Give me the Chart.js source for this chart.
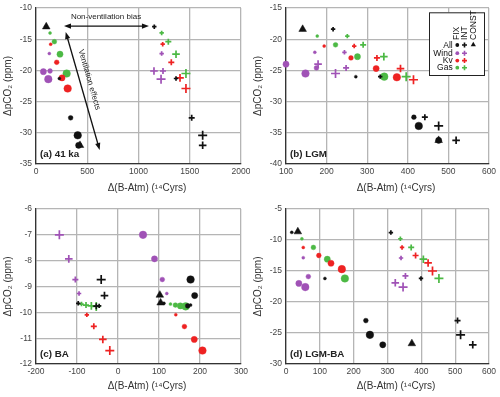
<!DOCTYPE html>
<html><head><meta charset="utf-8">
<script src="https://cdn.jsdelivr.net/npm/chart.js@4/dist/chart.umd.min.js"></script>
<style>
html,body{margin:0;padding:0;background:#fff;}
#wrap{position:relative;width:500px;height:397px;overflow:hidden;background:#fff;}
canvas{position:absolute;}
</style></head><body>
<div id="wrap">
<canvas id="ca" width="250" height="198" style="left:0;top:0;width:250px;height:198px"></canvas>
<canvas id="cb" width="250" height="198" style="left:250px;top:0;width:250px;height:198px"></canvas>
<canvas id="cc" width="250" height="199" style="left:0;top:198px;width:250px;height:199px"></canvas>
<canvas id="cd" width="250" height="199" style="left:250px;top:198px;width:250px;height:199px"></canvas>
</div>
<script>
// ---------- data ----------
const groups = ['All', 'Wind', 'Kv', 'Gas'];
const columns = ['FIX', 'INT', 'CONST'];
const levelsAll = [1, 1, 2, 4, 3];
const levelsOther = [1, 2, 3, 4];

// (a) 41 ka
const a_xTicks = [0, 500, 1000, 1500, 2000];
const a_yTicks = [-35, -30, -25, -20, -15, -10];
const a_fix_All_x = [95, 228, 338, 407, 416];   const a_fix_All_y = [-13.0, -21.3, -27.6, -30.4, -32.0];
const a_fix_Wind_x = [130, 137, 72, 120];       const a_fix_Wind_y = [-17.3, -20.1, -20.2, -21.4];
const a_fix_Kv_x = [143, 202, 254, 309];        const a_fix_Kv_y = [-15.8, -18.7, -21.2, -22.9];
const a_fix_Gas_x = [137, 179, 234, 299];       const a_fix_Gas_y = [-14.0, -15.4, -17.4, -20.5];
const a_int_All_x = [1154, 1366, 1519, 1626, 1626]; const a_int_All_y = [-13.0, -21.3, -27.6, -30.4, -32.0];
const a_int_Wind_x = [1226, 1239, 1151, 1220];  const a_int_Wind_y = [-17.3, -20.1, -20.1, -21.4];
const a_int_Kv_x = [1236, 1320, 1405, 1463];    const a_int_Kv_y = [-15.8, -18.7, -21.2, -22.9];
const a_int_Gas_x = [1226, 1291, 1366, 1463];   const a_int_Gas_y = [-14.0, -15.4, -17.4, -20.5];
const a_const_x = [100, 429];                   const a_const_y = [-13.0, -32.0];

// (b) LGM
const b_xTicks = [100, 200, 300, 400, 500, 600];
const b_yTicks = [-40, -35, -30, -25, -20, -15];
const b_fix_All_x = [141, 272, 415, 427, 476];  const b_fix_All_y = [-18.4, -26.0, -32.5, -33.9, -36.2];
const b_fix_Wind_x = [171, 175, 100, 148];      const b_fix_Wind_y = [-22.1, -24.6, -24.0, -25.5];
const b_fix_Kv_x = [194, 260, 322, 373];        const b_fix_Kv_y = [-21.1, -23.0, -24.7, -26.1];
const b_fix_Gas_x = [177, 222, 276, 342];       const b_fix_Gas_y = [-19.5, -20.9, -22.8, -26.0];
const b_int_All_x = [216, 332, 442, 476, 519];  const b_int_All_y = [-18.4, -26.0, -32.5, -33.9, -36.2];
const b_int_Wind_x = [244, 248, 179, 222];      const b_int_Wind_y = [-22.1, -24.6, -24.0, -25.5];
const b_int_Kv_x = [268, 324, 382, 414];        const b_int_Kv_y = [-21.1, -23.0, -24.7, -26.5];
const b_int_Gas_x = [251, 290, 341, 396];       const b_int_Gas_y = [-19.5, -20.9, -22.8, -26.0];
const b_const_x = [141, 476];                   const b_const_y = [-18.4, -36.2];

// (c) BA
const c_xTicks = [-200, -100, 0, 100, 200, 300];
const c_yTicks = [-12, -11, -10, -9, -8, -7, -6];
const c_fix_All_x = [112, 177, 170, 177, 187];  const c_fix_All_y = [-9.65, -9.72, -9.75, -8.73, -9.35];
const c_fix_Wind_x = [119, 108, 89, 61];        const c_fix_Wind_y = [-9.27, -8.73, -7.93, -7.0];
const c_fix_Kv_x = [141, 162, 186, 206];        const c_fix_Kv_y = [-10.09, -10.55, -11.05, -11.48];
const c_fix_Gas_x = [128, 140, 152, 165];       const c_fix_Gas_y = [-9.68, -9.72, -9.75, -9.77];
const c_int_All_x = [-97, -46, -53, -41, -33];  const c_int_All_y = [-9.65, -9.75, -9.76, -8.73, -9.35];
const c_int_Wind_x = [-95, -104, -120, -143];   const c_int_Wind_y = [-9.27, -8.73, -7.93, -7.0];
const c_int_Kv_x = [-76, -59, -37, -20];        const c_int_Kv_y = [-10.1, -10.54, -11.05, -11.48];
const c_int_Gas_x = [-89, -78, -65, -53];       const c_int_Gas_y = [-9.68, -9.72, -9.75, -9.77];
const c_const_x = [102, 104];                   const c_const_y = [-9.33, -9.63];

// (d) LGM-BA
const d_xTicks = [0, 100, 200, 300, 400, 500, 600];
const d_yTicks = [-30, -25, -20, -15, -10, -5];
const d_fix_All_x = [17, 115, 236, 248, 286];   const d_fix_All_y = [-8.77, -16.2, -23.0, -25.3, -26.9];
const d_fix_Wind_x = [51, 66, 38, 57];          const d_fix_Wind_y = [-12.85, -15.9, -17.0, -17.6];
const d_fix_Kv_x = [51, 97, 133, 165];          const d_fix_Kv_y = [-11.2, -12.5, -13.75, -14.7];
const d_fix_Gas_x = [47, 81, 122, 174];         const d_fix_Gas_y = [-9.8, -11.2, -13.1, -16.2];
const d_int_All_x = [310, 399, 507, 516, 552];  const d_int_All_y = [-8.8, -16.2, -23.0, -25.3, -26.9];
const d_int_Wind_x = [340, 353, 323, 346];      const d_int_Wind_y = [-12.9, -15.8, -16.9, -17.6];
const d_int_Kv_x = [343, 383, 420, 433];        const d_int_Kv_y = [-11.2, -12.5, -13.7, -15.0];
const d_int_Gas_x = [338, 370, 406, 452];       const d_int_Gas_y = [-9.8, -11.2, -13.1, -16.2];
const d_const_x = [35, 372];                    const d_const_y = [-8.65, -26.7];

// annotation anchors for panel (a), in data units
const a_biasArrow_x = [273, 1102]; const a_biasArrow_y = [-12.9, -12.9];
const a_biasText = ['Non-ventilation bias', 683, -11.35];
const a_ventArrow_x = [290, 621];  const a_ventArrow_y = [-13.85, -32.76];
const a_ventText = ['Ventilation effects', 520, -21.5];

// ---------- styling ----------
const FONT = "'Liberation Sans', Arial, Helvetica, sans-serif";
const groupColors = ['#111111', '#a052b6', '#ee2222', '#4cb944'];
const circleR = [0, 1.5, 2.4, 3.1, 3.8];
const crossR = [0, 2.2, 3.0, 3.8, 4.5];
const X_TITLE = 'Δ(B-Atm) (¹⁴Cyrs)';
const Y_TITLE = 'ΔpCO₂ (ppm)';

function pts(xs, ys) { return xs.map((x, i) => ({ x: x, y: ys[i] })); }

const panels = [
  { id: 'ca', label: '(a) 41 ka', xT: a_xTicks, yT: a_yTicks,
    fix: [[a_fix_All_x, a_fix_All_y], [a_fix_Wind_x, a_fix_Wind_y], [a_fix_Kv_x, a_fix_Kv_y], [a_fix_Gas_x, a_fix_Gas_y]],
    int: [[a_int_All_x, a_int_All_y], [a_int_Wind_x, a_int_Wind_y], [a_int_Kv_x, a_int_Kv_y], [a_int_Gas_x, a_int_Gas_y]],
    cst: [a_const_x, a_const_y], padTop: 8, padRight: 9, xH: 34, titleDy: 24, notes: true },
  { id: 'cb', label: '(b) LGM', xT: b_xTicks, yT: b_yTicks,
    fix: [[b_fix_All_x, b_fix_All_y], [b_fix_Wind_x, b_fix_Wind_y], [b_fix_Kv_x, b_fix_Kv_y], [b_fix_Gas_x, b_fix_Gas_y]],
    int: [[b_int_All_x, b_int_All_y], [b_int_Wind_x, b_int_Wind_y], [b_int_Kv_x, b_int_Kv_y], [b_int_Gas_x, b_int_Gas_y]],
    cst: [b_const_x, b_const_y], padTop: 8, padRight: 11, xH: 34, titleDy: 24, legend: true },
  { id: 'cc', label: '(c) BA', xT: c_xTicks, yT: c_yTicks,
    fix: [[c_fix_All_x, c_fix_All_y], [c_fix_Wind_x, c_fix_Wind_y], [c_fix_Kv_x, c_fix_Kv_y], [c_fix_Gas_x, c_fix_Gas_y]],
    int: [[c_int_All_x, c_int_All_y], [c_int_Wind_x, c_int_Wind_y], [c_int_Kv_x, c_int_Kv_y], [c_int_Gas_x, c_int_Gas_y]],
    cst: [c_const_x, c_const_y], padTop: 11, padRight: 9, xH: 33, titleDy: 22 },
  { id: 'cd', label: '(d) LGM-BA', xT: d_xTicks, yT: d_yTicks,
    fix: [[d_fix_All_x, d_fix_All_y], [d_fix_Wind_x, d_fix_Wind_y], [d_fix_Kv_x, d_fix_Kv_y], [d_fix_Gas_x, d_fix_Gas_y]],
    int: [[d_int_All_x, d_int_All_y], [d_int_Wind_x, d_int_Wind_y], [d_int_Kv_x, d_int_Kv_y], [d_int_Gas_x, d_int_Gas_y]],
    cst: [d_const_x, d_const_y], padTop: 11, padRight: 11, xH: 33, titleDy: 22 }
];

function arrowHead(ctx, x0, y0, x1, y1) {
  const a = Math.atan2(y1 - y0, x1 - x0), L = 7, W = 2.6;
  ctx.beginPath();
  ctx.moveTo(x1, y1);
  ctx.lineTo(x1 - L * Math.cos(a) + W * Math.sin(a), y1 - L * Math.sin(a) - W * Math.cos(a));
  ctx.lineTo(x1 - L * Math.cos(a) - W * Math.sin(a), y1 - L * Math.sin(a) + W * Math.cos(a));
  ctx.closePath();
  ctx.fill();
}
function doubleArrow(ctx, x0, y0, x1, y1) {
  const a = Math.atan2(y1 - y0, x1 - x0), L = 6;
  ctx.beginPath();
  ctx.moveTo(x0 + L * Math.cos(a), y0 + L * Math.sin(a));
  ctx.lineTo(x1 - L * Math.cos(a), y1 - L * Math.sin(a));
  ctx.stroke();
  arrowHead(ctx, x1, y1, x0, y0);
  arrowHead(ctx, x0, y0, x1, y1);
}

function drawMarker(ctx, style, x, y, r, col) {
  ctx.save();
  ctx.fillStyle = col; ctx.strokeStyle = col;
  if (style === 'circle') {
    ctx.beginPath(); ctx.arc(x, y, r, 0, Math.PI * 2); ctx.fill();
  } else if (style === 'cross') {
    ctx.lineWidth = 1.6;
    ctx.beginPath(); ctx.moveTo(x - r, y); ctx.lineTo(x + r, y); ctx.moveTo(x, y - r); ctx.lineTo(x, y + r); ctx.stroke();
  } else {
    ctx.beginPath();
    ctx.moveTo(x, y - r); ctx.lineTo(x + r * 0.866, y + r * 0.5); ctx.lineTo(x - r * 0.866, y + r * 0.5);
    ctx.closePath(); ctx.fill();
  }
  ctx.restore();
}

const decoPlugin = {
  id: 'deco',
  afterDraw(chart) {
    const p = chart.options.plugins.deco.panel;
    const ctx = chart.ctx, ca = chart.chartArea;
    const sx = chart.scales.x, sy = chart.scales.y;
    ctx.save();
    ctx.fillStyle = '#333';
    ctx.font = '10px ' + FONT;
    ctx.textAlign = 'center'; ctx.textBaseline = 'middle';
    ctx.fillText(X_TITLE, (ca.left + ca.right) / 2 + 8.5, ca.bottom + p.titleDy);
    ctx.fillStyle = '#222';
    ctx.font = 'bold 9.8px ' + FONT;
    ctx.textAlign = 'left';
    ctx.fillText(p.label, ca.left + 4, ca.bottom - 9.5);
    if (p.notes) {
      ctx.strokeStyle = '#111'; ctx.fillStyle = '#111'; ctx.lineWidth = 1.3;
      doubleArrow(ctx, sx.getPixelForValue(a_biasArrow_x[0]), sy.getPixelForValue(a_biasArrow_y[0]),
                       sx.getPixelForValue(a_biasArrow_x[1]), sy.getPixelForValue(a_biasArrow_y[1]));
      const vx0 = sx.getPixelForValue(a_ventArrow_x[0]), vy0 = sy.getPixelForValue(a_ventArrow_y[0]);
      const vx1 = sx.getPixelForValue(a_ventArrow_x[1]), vy1 = sy.getPixelForValue(a_ventArrow_y[1]);
      doubleArrow(ctx, vx0, vy0, vx1, vy1);
      ctx.font = '8px ' + FONT;
      ctx.fillStyle = '#222';
      ctx.textAlign = 'center'; ctx.textBaseline = 'middle';
      ctx.fillText(a_biasText[0], sx.getPixelForValue(a_biasText[1]), sy.getPixelForValue(a_biasText[2]));
      ctx.save();
      ctx.translate(sx.getPixelForValue(a_ventText[1]), sy.getPixelForValue(a_ventText[2]));
      ctx.rotate(Math.atan2(vy1 - vy0, vx1 - vx0));
      ctx.fillText(a_ventText[0], 0, 0);
      ctx.restore();
    }
    if (p.legend) {
      const R = ca.right, T = ca.top;
      ctx.fillStyle = '#fff';
      ctx.fillRect(R - 60, T + 4.3, 55, 62.7);
      ctx.strokeStyle = '#222'; ctx.lineWidth = 1;
      ctx.strokeRect(R - 60 + 0.5, T + 4.3 + 0.5, 55, 62.7);
      ctx.font = '8.5px ' + FONT;
      ctx.fillStyle = '#111';
      const colX = [R - 32.3, R - 24.5, R - 15.7];
      columns.forEach((c, i) => {
        ctx.save();
        ctx.translate(colX[i], T + 32);
        ctx.rotate(-Math.PI / 2);
        ctx.textAlign = 'left'; ctx.textBaseline = 'middle';
        ctx.fillText(c, 0, 0);
        ctx.restore();
      });
      const rowY = [T + 37, T + 45.2, T + 52.6, T + 59.7];
      groups.forEach((g, i) => {
        ctx.fillStyle = '#111';
        ctx.textAlign = 'right'; ctx.textBaseline = 'middle';
        ctx.fillText(g, R - 36.3, rowY[i] + 0.3);
        drawMarker(ctx, 'circle', colX[0] + 0.6, rowY[i], 1.9, groupColors[i]);
        drawMarker(ctx, 'cross', colX[1], rowY[i], 2.5, groupColors[i]);
        if (i === 0) drawMarker(ctx, 'triangle', colX[2], rowY[i] - 0.3, 3, groupColors[i]);
      });
    }
    ctx.restore();
  }
};

panels.forEach(p => {
  const datasets = [];
  datasets.push({ data: pts(p.cst[0], p.cst[1]), pointStyle: 'triangle', pointRadius: 4.4,
    backgroundColor: '#111', borderColor: '#111', borderWidth: 0.5, clip: false });
  groups.forEach((g, gi) => {
    const lv = gi === 0 ? levelsAll : levelsOther;
    const col = groupColors[gi];
    datasets.push({ data: pts(p.fix[gi][0], p.fix[gi][1]), pointStyle: 'circle',
      pointRadius: lv.map(l => circleR[l]), backgroundColor: col, borderColor: col, borderWidth: 0.4, clip: false });
    datasets.push({ data: pts(p.int[gi][0], p.int[gi][1]), pointStyle: 'cross',
      pointRadius: lv.map(l => crossR[l]), backgroundColor: col, borderColor: col, borderWidth: 1.7, clip: false });
  });
  const xT = p.xT, yT = p.yT;
  new Chart(document.getElementById(p.id), {
    type: 'scatter',
    data: { datasets: datasets },
    options: {
      responsive: false, animation: false, devicePixelRatio: 1,
      events: [],
      layout: { padding: { top: p.padTop, right: p.padRight, left: 0, bottom: 0 } },
      plugins: { legend: { display: false }, tooltip: { enabled: false }, deco: { panel: p } },
      scales: {
        x: {
          type: 'linear', min: xT[0], max: xT[xT.length - 1],
          afterBuildTicks: s => { s.ticks = xT.map(v => ({ value: v })); },
          afterFit: s => { s.height = p.xH; s.paddingLeft = 0; s.paddingRight = 0; },
          ticks: { autoSkip: false, maxRotation: 0, padding: 3, color: '#444',
            font: { size: 8.5, family: FONT }, callback: v => String(v) },
          grid: { color: '#b5b5b5', lineWidth: 1.3, drawTicks: false },
          border: { display: true, color: '#333', width: 1.3 },
          title: { display: false }
        },
        y: {
          type: 'linear', min: yT[0], max: yT[yT.length - 1],
          afterBuildTicks: s => { s.ticks = yT.map(v => ({ value: v })); },
          afterFit: s => { s.width = 36; s.paddingTop = 0; s.paddingBottom = 0; },
          ticks: { autoSkip: false, padding: 4, color: '#444',
            font: { size: 8.5, family: FONT }, callback: v => String(v) },
          grid: { color: '#b5b5b5', lineWidth: 1.3, drawTicks: false },
          border: { display: true, color: '#333', width: 1.3 },
          title: { display: true, text: Y_TITLE, color: '#333', font: { size: 10, family: FONT },
            padding: { top: 2, bottom: 0 } }
        }
      }
    },
    plugins: [decoPlugin]
  });
});
</script>
</body></html>
